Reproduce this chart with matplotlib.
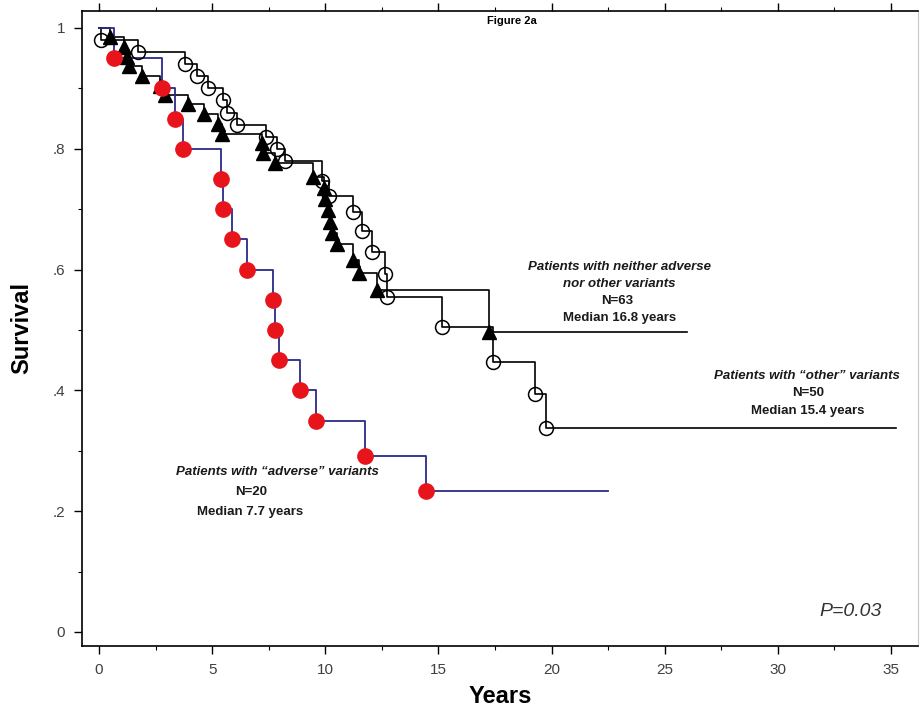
import numpy as np
import matplotlib
matplotlib.use("Agg")
import matplotlib.pyplot as plt

plt.rcParams['font.family'] = ['Liberation Sans', 'DejaVu Sans']

# "adverse" variants, N=20 (red)
adv_t = [0.66, 2.8, 3.35, 3.7, 5.4, 5.5, 5.9, 6.55, 7.7, 7.8, 7.95, 8.9, 9.6, 11.75, 14.45]
adv_s = [0.95, 0.90, 0.85, 0.80, 0.75, 0.70, 0.65, 0.60, 0.55, 0.50, 0.45, 0.40, 0.35, 0.292, 0.233]
adv_end = 22.5

# neither adverse nor other, N=63 (triangles)
nei_t = [0.49, 1.10, 1.24, 1.33, 1.90, 2.70, 2.92, 3.93, 4.64, 5.26, 5.44, 7.20, 7.25, 7.78,
         9.46, 9.94, 9.99, 10.12, 10.21, 10.30, 10.52, 11.22, 11.49, 12.28, 17.23]
nei_s = [0.985, 0.969, 0.952, 0.937, 0.921, 0.904, 0.889, 0.874, 0.858, 0.841, 0.825, 0.810,
         0.793, 0.776, 0.753, 0.735, 0.717, 0.699, 0.679, 0.661, 0.642, 0.616, 0.594, 0.566, 0.497]
nei_end = 26.0

# "other" variants, N=50 (open circles)
oth_t = [0.09, 1.72, 3.80, 4.33, 4.82, 5.48, 5.66, 6.10, 7.38, 7.87, 8.22, 9.85, 10.16,
         11.22, 11.62, 12.06, 12.64, 12.73, 15.16, 17.41, 19.27, 19.75]
oth_s = [0.98, 0.96, 0.94, 0.92, 0.90, 0.88, 0.86, 0.84, 0.82, 0.80, 0.78, 0.747, 0.722,
         0.695, 0.664, 0.629, 0.593, 0.555, 0.505, 0.447, 0.394, 0.338]
oth_end = 35.2

x_ticks = [0, 5, 10, 15, 20, 25, 30, 35]
y_ticks = [0, 0.2, 0.4, 0.6, 0.8, 1.0]
y_labels = ['0', '.2', '.4', '.6', '.8', '1']


def steps(t, s, end):
    return [0] + list(t) + [end], [1.0] + list(s) + [s[-1]]


fig = plt.figure(figsize=(9.21, 7.14), dpi=100)
ax = fig.add_axes([82 / 921, 1 - 646 / 714, (918 - 82) / 921, (646 - 11) / 714])

# step lines
x, y = steps(oth_t, oth_s, oth_end)
ax.step(x, y, where='post', color='black', lw=1.2, zorder=2)
x, y = steps(nei_t, nei_s, nei_end)
ax.step(x, y, where='post', color='black', lw=1.2, zorder=2)
x, y = steps(adv_t, adv_s, adv_end)
ax.step(x, y, where='post', color='#2a2a8a', lw=1.3, zorder=2)

# markers
ax.plot(oth_t, oth_s, 'o', ms=10, mfc='none', mec='black', mew=1.1, zorder=3)
ax.plot(nei_t, nei_s, '^', ms=10.5, color='black', zorder=4)
ax.plot(adv_t, adv_s, 'o', ms=11, color='#e8141c', mec='#e8141c', zorder=5)

ax.set_xlim(-0.75, 36.19)
ax.set_ylim(-0.0232, 1.0281)
ax.set_xticks(x_ticks)
ax.set_xticks(np.arange(0, 36, 2.5), minor=True)
ax.set_yticks(y_ticks)
ax.set_yticklabels(y_labels)
ax.set_yticks(np.arange(0, 1.01, 0.1), minor=True)
ax.tick_params(which='major', direction='out', length=6, width=1, labelsize=11,
               labelcolor='#404040', pad=6)
ax.tick_params(which='minor', direction='out', length=3, width=0.8)
ax.tick_params(top=True, which='both')
for side in ['left', 'bottom', 'top']:
    ax.spines[side].set_linewidth(1.2)
ax.spines['right'].set_color('#c8c8c8')

ax.set_xlabel('Years', fontsize=17, fontweight='bold', labelpad=6)
ax.set_ylabel('Survival', fontsize=17, fontweight='bold', labelpad=14)


def px(xp, yp):
    return xp / 921, 1 - yp / 714


kw = dict(fontsize=9.5, fontweight='bold', ha='center', va='center', color='#1a1a1a')
fig.text(*px(512, 21), 'Figure 2a', fontsize=8, fontweight='bold', ha='center', va='center')

fig.text(*px(619, 267), 'Patients with neither adverse', style='italic', **kw)
fig.text(*px(619, 284), 'nor other variants', style='italic', **kw)
fig.text(*px(617, 301), 'N=63', **kw)
fig.text(*px(620, 318), 'Median 16.8 years', **kw)

fig.text(*px(807, 376), 'Patients with \u201cother\u201d variants', style='italic', **kw)
fig.text(*px(808, 393), 'N=50', **kw)
fig.text(*px(808, 411), 'Median 15.4 years', **kw)

fig.text(*px(277, 472), 'Patients with \u201cadverse\u201d variants', style='italic', **kw)
fig.text(*px(251, 492), 'N=20', **kw)
fig.text(*px(250, 512), 'Median 7.7 years', **kw)

fig.text(*px(851, 612), 'P=0.03', fontsize=14, style='italic', ha='center', va='center',
         color='#333333')

fig.savefig('out.png', dpi=100)
